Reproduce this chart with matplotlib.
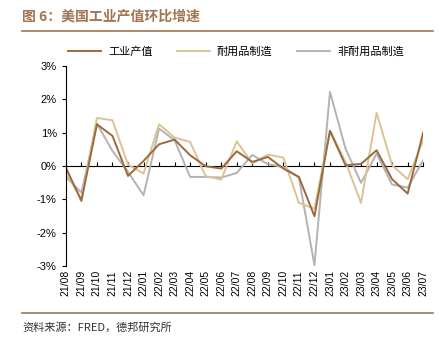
import matplotlib
matplotlib.use('Agg')
import matplotlib.pyplot as plt
from matplotlib.lines import Line2D

plt.rcParams['font.family'] = ['Liberation Sans', 'Noto Sans CJK SC', 'DejaVu Sans']

months = ['21/08', '21/09', '21/10', '21/11', '21/12', '22/01', '22/02', '22/03',
          '22/04', '22/05', '22/06', '22/07', '22/08', '22/09', '22/10', '22/11',
          '22/12', '23/01', '23/02', '23/03', '23/04', '23/05', '23/06', '23/07']

# month-over-month growth, %
industrial = [-0.05, -1.05, 1.25, 0.90, -0.30, 0.15, 0.65, 0.79,
              0.32, -0.01, -0.08, 0.44, 0.12, 0.27, -0.08, -0.33,
              -1.51, 1.05, 0.02, 0.06, 0.47, -0.40, -0.83, 1.00]
durable = [-0.20, -1.00, 1.44, 1.37, 0.04, -0.23, 1.25, 0.85,
           0.72, -0.31, -0.41, 0.74, 0.07, 0.34, 0.25, -1.11,
           -1.28, 1.07, 0.12, -1.11, 1.60, 0.02, -0.40, 0.77]
nondurable = [-0.33, -0.80, 1.27, 0.45, -0.18, -0.88, 1.12, 0.77,
              -0.33, -0.33, -0.35, -0.21, 0.33, 0.05, -0.03, -0.35,
              -2.98, 2.22, 0.52, -0.51, 0.37, -0.56, -0.65, 0.17]

c_ind = '#9a6a3f'
c_dur = '#dbc393'
c_non = '#b3b3b3'
c_title = '#a07553'

fig = plt.figure(figsize=(4.45, 3.4), dpi=100)
ax = fig.add_axes([0.148, 0.218, 0.803, 0.588])

x = list(range(len(months)))
ax.plot(x, nondurable, color=c_non, lw=1.4, label='非耐用品制造')
ax.plot(x, durable, color=c_dur, lw=1.4, label='耐用品制造')
ax.plot(x, industrial, color=c_ind, lw=1.4, label='工业产值')

ax.set_xlim(0, len(months) - 1)
ax.set_ylim(-3, 3)
ax.set_yticks([-3, -2, -1, 0, 1, 2, 3])
ax.set_yticklabels([f'{v}%' for v in range(-3, 4)], fontsize=8)
ax.set_xticks(x)
ax.set_xticklabels(months, rotation=90, fontsize=7.5)
ax.tick_params(axis='x', length=0, pad=3)
ax.tick_params(axis='y', direction='out', length=3, width=0.8)

for s in ['top', 'right', 'bottom']:
    ax.spines[s].set_visible(False)
ax.spines['left'].set_color('black')
ax.spines['left'].set_linewidth(0.8)

# zero line with month ticks
sec = ax.secondary_xaxis(0.5)
sec.set_xticks(x)
sec.tick_params(axis='x', direction='out', length=3, width=0.8, labelbottom=False, labeltop=False)
sec.spines['bottom'].set_linewidth(0.8)

handles = [Line2D([], [], color=c_ind, lw=1.4),
           Line2D([], [], color=c_dur, lw=1.4),
           Line2D([], [], color=c_non, lw=1.4)]
fig.legend(handles, ['工业产值', '耐用品制造', '非耐用品制造'], loc='center',
           bbox_to_anchor=(0.53, 0.847), ncol=3, frameon=False,
           handlelength=3.0, columnspacing=2.2, handletextpad=0.6,
           prop={'family': ['Noto Sans CJK SC'], 'size': 8})

fig.text(0.05, 0.95, '图 6：美国工业产值环比增速', fontsize=10, color=c_title,
         fontweight='bold', family=['Noto Sans CJK SC'], va='center')
fig.add_artist(Line2D([0.05, 0.973], [0.909, 0.909], color=c_title, lw=1.2))
fig.add_artist(Line2D([0.05, 0.973], [0.079, 0.079], color=c_title, lw=1.2))
fig.text(0.05, 0.038, '资料来源：FRED，德邦研究所', fontsize=8, color='#333333',
         family=['Noto Sans CJK SC'], va='center')

fig.savefig('out.png', dpi=100)
